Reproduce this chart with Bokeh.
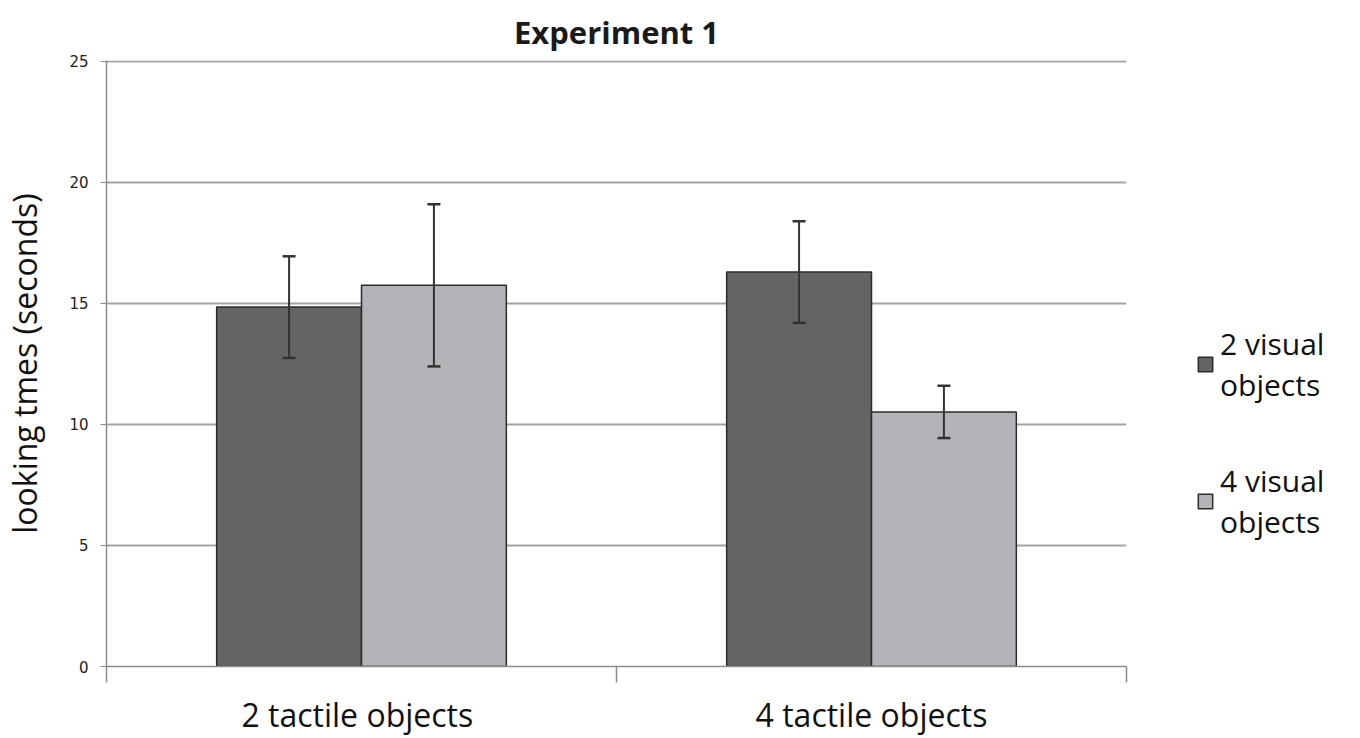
from bokeh.plotting import figure
from bokeh.models import (ColumnDataSource, FixedTicker, Whisker, Legend, LegendItem, Range1d)
from bokeh.embed import file_html
from bokeh.resources import INLINE

# data
categories = ["2  tactile objects", "4 tactile objects"]
series = ["2 visual\nobjects", "4 visual\nobjects"]
means_2visual = [14.85, 16.3]
means_4visual = [15.75, 10.52]
err_2visual = [2.1, 2.1]
err_4visual = [3.35, 1.08]
y_ticks = [0, 5, 10, 15, 20, 25]
colors = ["#646466", "#b3b4b8"]

cat_pos = [i + 0.5 for i in range(len(categories))]
bar_w = 0.284
offsets = [-bar_w / 2, bar_w / 2]

FONT = "Open Sans"

p = figure(width=1360, height=738, output_backend="svg", toolbar_location=None,
           x_range=Range1d(0, len(categories)), y_range=Range1d(0, 25.04),
           min_border_left=106, min_border_right=234, min_border_top=60, min_border_bottom=72)
p.frame_width = 1020
p.frame_height = 606

p.title.text = "Experiment 1"
p.title.align = "center"
p.title.text_font = FONT
p.title.text_font_size = "31px"
p.title.text_font_style = "bold"
p.title.text_color = "#1a1a1a"
p.title.offset = 0
p.title.standoff = 16

p.outline_line_color = None
p.background_fill_color = "white"

renderers = []
for s, (means, errs) in enumerate([(means_2visual, err_2visual), (means_4visual, err_4visual)]):
    xs = [c + offsets[s] for c in cat_pos]
    src = ColumnDataSource(dict(x=xs, top=means,
                                upper=[m + e for m, e in zip(means, errs)],
                                lower=[m - e for m, e in zip(means, errs)]))
    r = p.vbar(x="x", top="top", bottom=0, width=bar_w, source=src,
               fill_color=colors[s], line_color="#2b2b2b", line_width=1.5)
    renderers.append(r)
    w = Whisker(base="x", upper="upper", lower="lower", source=src,
                line_color="#333333", line_width=2, level="overlay")
    w.upper_head.size = 13
    w.lower_head.size = 13
    w.upper_head.line_color = "#333333"
    w.lower_head.line_color = "#333333"
    w.upper_head.line_width = 2.5
    w.lower_head.line_width = 2.5
    p.add_layout(w)

# grid
p.xgrid.visible = False
p.ygrid.ticker = FixedTicker(ticks=y_ticks)
p.ygrid.grid_line_color = "#a3a3a3"
p.ygrid.grid_line_width = 2
p.ygrid.level = "underlay"

# y axis
p.yaxis.ticker = FixedTicker(ticks=y_ticks)
p.yaxis.axis_line_color = "#8c8c8c"
p.yaxis.axis_line_width = 1.5
p.yaxis.major_tick_line_color = "#8c8c8c"
p.yaxis.major_tick_in = 0
p.yaxis.major_tick_out = 6
p.yaxis.minor_tick_line_color = None
p.yaxis.major_label_text_font = "DejaVu Sans"
p.yaxis.major_label_text_font_size = "15px"
p.yaxis.major_label_text_color = "#222222"
p.yaxis.major_label_standoff = 12
p.yaxis.axis_label = "looking tmes (seconds)"
p.yaxis.axis_label_text_font = FONT
p.yaxis.axis_label_text_font_size = "32px"
p.yaxis.axis_label_text_font_style = "normal"
p.yaxis.axis_label_text_color = "#111111"
p.yaxis.axis_label_standoff = 20

# x axis
p.xaxis.ticker = FixedTicker(ticks=cat_pos, minor_ticks=list(range(len(categories) + 1)))
p.xaxis.major_label_overrides = {c: lab for c, lab in zip(cat_pos, categories)}
p.xaxis.major_tick_line_color = None
p.xaxis.minor_tick_line_color = "#8c8c8c"
p.xaxis.minor_tick_line_width = 1.5
p.xaxis.minor_tick_in = 0
p.xaxis.minor_tick_out = 16
p.xaxis.axis_line_color = "#8c8c8c"
p.xaxis.axis_line_width = 1.5
p.xaxis.major_label_text_font = FONT
p.xaxis.major_label_text_font_size = "32px"
p.xaxis.major_label_text_color = "#111111"
p.xaxis.major_label_standoff = 10

legend = Legend(items=[LegendItem(label=series[i], renderers=[renderers[i]]) for i in range(2)],
                location=(70, 124), orientation="vertical")
legend.label_text_font = FONT
legend.label_text_font_size = "30px"
legend.label_text_color = "#111111"
legend.glyph_width = 18
legend.glyph_height = 18
legend.spacing = 55
legend.label_standoff = 6
legend.border_line_color = None
legend.background_fill_alpha = 0
legend.padding = 0
legend.margin = 0
p.add_layout(legend, "right")

open("out.html", "w").write(file_html(p, INLINE))
